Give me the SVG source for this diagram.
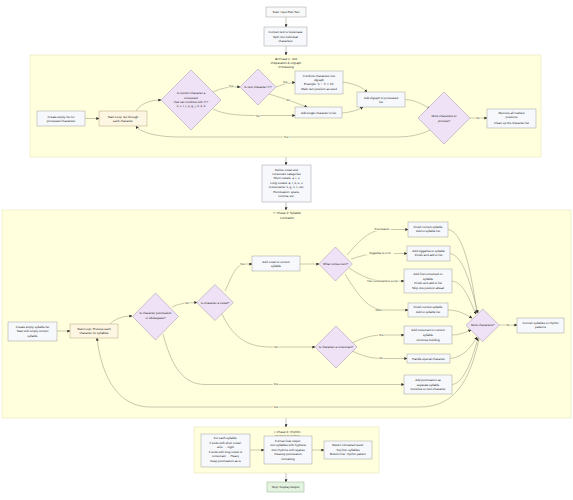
<svg xmlns="http://www.w3.org/2000/svg" width="573" height="500" viewBox="0 0 573 500">
<defs>
<marker id="arr" viewBox="0 0 10 10" refX="9" refY="5" markerUnits="userSpaceOnUse" markerWidth="3" markerHeight="3" orient="auto"><path d="M0,0 L10,5 L0,10 z" fill="#333"/></marker>
<style>
text{font-family:"Liberation Sans",Arial,sans-serif;font-size:3px;fill:#222;text-anchor:middle;text-rendering:geometricPrecision}
.cl{fill:#ffffde;stroke:#e6e3b8;stroke-width:0.6}
.cll{font-size:3.1px;fill:#333}
.proc{fill:#f6f8fc;stroke:#9e9e9e;stroke-width:0.5}
.dec{fill:#efe2f6;stroke:#a08cae;stroke-width:0.5}
.loop{fill:#fdf6e2;stroke:#b6a47c;stroke-width:0.5}
.start{fill:#f9f9f9;stroke:#9e9e9e;stroke-width:0.5}
.stop{fill:#e4f2e0;stroke:#93b58c;stroke-width:0.5}
.e{fill:none;stroke:#9a9a86;stroke-width:0.55;marker-end:url(#arr)}
.lb{fill:#ffffde;opacity:0.9}
.el{font-size:2.8px;fill:#333}
</style>
</defs>

<g id="clusters">
<rect class="cl" x="30" y="55" width="511" height="102"/>
<text class="cll" x="286" y="59.5">⊞ Phase 1: Text</text>
<text class="cll" x="286" y="63.5">Preparation &amp; Digraph</text>
<text class="cll" x="286" y="67.5">Processing</text>
<rect class="cl" x="2" y="210" width="569" height="208"/>
<text class="cll" x="287" y="214.3">✂ Phase 2: Syllable</text>
<text class="cll" x="287" y="218.6">Formation</text>
<rect class="cl" x="194" y="427" width="185" height="46"/>
<text class="cll" x="287" y="432.6">♫ Phase 3: Rhythm</text>
<text class="cll" x="287" y="436.6">Analysis &amp; Output</text>
</g>

<g id="connectors">
<path class="e" d="M286,17 L286,27"/>
<path class="e" d="M286,46 L286,55"/>
<path class="e" d="M85,118.5 L99,118.5"/>
<path class="e" d="M136,111 C140,104 150,100 161,100"/>
<path class="e" d="M213,92 Q225,86 240,87"/>
<path class="e" d="M276,87 Q285,82.5 295,82.5"/>
<path class="e" d="M269,94 Q290,100 307,107"/>
<path class="e" d="M213,109 C225,115 240,115.5 260,115.5 L295,115.5"/>
<path class="e" d="M343,82 C355,84 362,87 367,92"/>
<path class="e" d="M342,113 C352,112 358,110 363,107"/>
<path class="e" d="M405,99.5 C415,100 422,104 430,109"/>
<path class="e" d="M470,118 L487,118"/>
<path class="e" d="M430,130 C420,135 410,137 395,137 L180,137 C155,137 140,132 136,126"/>
<path class="e" d="M286,157 L286,165"/>
<path class="e" d="M286,202 L286,210"/>
<path class="e" d="M57,331 L70,331"/>
<path class="e" d="M110,324 C115,319 122,316 132,316"/>
<path class="e" d="M172,307 Q180,302.5 197,302.5"/>
<path class="e" d="M225,291 C232,276 236,264 245,264 L252,264"/>
<path class="e" d="M300,264 L319,264"/>
<path class="e" d="M347,255 C360,240 370,229.5 385,229.5 L408,229.5"/>
<path class="e" d="M351,259 Q365,253.5 380,253.5 L407,253.5"/>
<path class="e" d="M349,268 C360,275 370,281 385,281 L404,281"/>
<path class="e" d="M345,274 C358,295 368,310 385,310 L408,310"/>
<path class="e" d="M222,314 C232,335 245,347 270,347 L315,347"/>
<path class="e" d="M352,343 C365,337 372,335 385,335 L404,335"/>
<path class="e" d="M352,351 C365,357 372,358.5 385,358.5 L407,358.5"/>
<path class="e" d="M163,334 C170,360 180,384.5 205,384.5 L404,384.5"/>
<path class="e" d="M448,229.5 C465,232 472,280 477,313"/>
<path class="e" d="M450,253.5 C465,256 472,292 478,313"/>
<path class="e" d="M452,281 C465,283 470,302 476,314"/>
<path class="e" d="M448,310 C458,310 465,314 472,318"/>
<path class="e" d="M452,335 C460,335 466,332 471,330"/>
<path class="e" d="M450,358.5 C465,357 472,345 477,337"/>
<path class="e" d="M452,384.5 C465,383 473,356 478,338"/>
<path class="e" d="M499,325 L517,325"/>
<path class="e" d="M479,339 C470,380 455,407 420,407 L150,407 C120,407 102,380 97,338"/>
<path class="e" d="M286,418 L286,427"/>
<path class="e" d="M250,450 L264,450"/>
<path class="e" d="M312,450 L324,450"/>
<path class="e" d="M286,473 L286,482"/>

<rect class="lb" x="228" y="84.6" width="6" height="3"/><text class="el" x="231" y="87">Yes</text>
<rect class="lb" x="282" y="80.6" width="6" height="3"/><text class="el" x="285" y="83">Yes</text>
<rect class="lb" x="285.5" y="98.6" width="5" height="3"/><text class="el" x="288" y="101">No</text>
<rect class="lb" x="255.5" y="114" width="5" height="3"/><text class="el" x="258" y="116.5">No</text>
<rect class="lb" x="475.5" y="116.6" width="5" height="3"/><text class="el" x="478" y="119">No</text>
<rect class="lb" x="283" y="135.6" width="6" height="3"/><text class="el" x="286" y="138">Yes</text>
<rect class="lb" x="184.5" y="301.3" width="5" height="3"/><text class="el" x="187" y="303.7">No</text>
<rect class="lb" x="239.3" y="262.6" width="6" height="3"/><text class="el" x="242.3" y="265">Yes</text>
<rect class="lb" x="373" y="228" width="18" height="3"/><text class="el" x="382" y="230.4">Punctuation</text>
<rect class="lb" x="366" y="252" width="28" height="3"/><text class="el" x="380" y="254.4">Niggahita ṃ or ṁ</text>
<rect class="lb" x="366" y="279.6" width="33" height="3"/><text class="el" x="382.5" y="282">Two consonants in a row</text>
<rect class="lb" x="375" y="308.6" width="8" height="3"/><text class="el" x="379" y="311">Other</text>
<rect class="lb" x="273.5" y="345.6" width="5" height="3"/><text class="el" x="276" y="348">No</text>
<rect class="lb" x="378" y="333.6" width="6" height="3"/><text class="el" x="381" y="336">Yes</text>
<rect class="lb" x="378.5" y="357" width="5" height="3"/><text class="el" x="381" y="359.4">No</text>
<rect class="lb" x="272.7" y="383" width="6" height="3"/><text class="el" x="275.7" y="385.4">Yes</text>
<rect class="lb" x="505.5" y="323.6" width="5" height="3"/><text class="el" x="508" y="326">No</text>
<rect class="lb" x="272.7" y="405.6" width="6" height="3"/><text class="el" x="275.7" y="408">Yes</text>
</g>

<g id="start"><rect class="start" x="266" y="7" width="40" height="10"/><text x="286" y="13">Start: Input Pali Text</text></g>
<g id="convert"><rect class="proc" x="264" y="27" width="43" height="19"/><text x="285.5" y="33">Convert text to lowercase</text><text x="285.5" y="37.5">Split into individual</text><text x="285.5" y="42">characters</text></g>

<g id="p1_create"><rect class="proc" x="37" y="111" width="48" height="15"/><text x="61" y="117.7">Create empty list for</text><text x="61" y="122">processed characters</text></g>
<g id="p1_loop"><rect class="loop" x="99" y="111" width="48" height="15"/><text x="123" y="117.7">Start Loop: Go through</text><text x="123" y="122">each character</text></g>
<g id="p1_d1"><polygon class="dec" points="191,70 221,100 191,130 161,100"/><text x="191" y="94.3">Is current character a</text><text x="191" y="98.7">consonant</text><text x="191" y="103">that can combine with 'h'?</text><text x="191" y="107.3">k, c, t, ṭ, p, g, j, d, ḍ, b</text></g>
<g id="p1_d2"><polygon class="dec" points="258,69 276,87 258,105 240,87"/><text x="258" y="88">Is next character 'h'?</text></g>
<g id="p1_combine"><rect class="proc" x="295" y="71" width="48" height="23"/><text x="319" y="76.7">Combine characters into</text><text x="319" y="80.5">digraph</text><text x="319" y="85">Example: 'k' + 'h' = 'kh'</text><text x="319" y="90">Mark next position as used</text></g>
<g id="p1_digraph"><rect class="proc" x="357" y="92" width="48" height="15"/><text x="381" y="98.7">Add digraph to processed</text><text x="381" y="103.3">list</text></g>
<g id="p1_single"><rect class="proc" x="295" y="107" width="47" height="11"/><text x="318.5" y="113.6">Add single character to list</text></g>
<g id="p1_more"><polygon class="dec" points="444,92 470,118 444,144 418,118"/><text x="444" y="117">More characters to</text><text x="444" y="121.6">process?</text></g>
<g id="p1_remove"><rect class="proc" x="487" y="109" width="49" height="19"/><text x="511.5" y="113.7">Remove all marked</text><text x="511.5" y="118.3">positions</text><text x="511.5" y="123.6">Clean up the character list</text></g>

<g id="define"><rect class="proc" x="262" y="165" width="49" height="37"/><text x="286.5" y="171">Define vowel and</text><text x="286.5" y="175">consonant categories</text><text x="286.5" y="179.3">Short vowels: a, i, u</text><text x="286.5" y="183.7">Long vowels: ā, ī, ū, e, o</text><text x="286.5" y="188.3">Consonants: k, g, ṅ, c, etc.</text><text x="286.5" y="192.7">Punctuation: space,</text><text x="286.5" y="197">comma, etc.</text></g>

<g id="p2_create"><rect class="proc" x="8" y="322" width="49" height="19"/><text x="32.5" y="327.7">Create empty syllable list</text><text x="32.5" y="332">Start with empty current</text><text x="32.5" y="336.7">syllable</text></g>
<g id="p2_loop"><rect class="loop" x="70" y="324" width="48" height="14"/><text x="94" y="330">Start Loop: Process each</text><text x="94" y="334.3">character for syllables</text></g>
<g id="p2_punct"><polygon class="dec" points="155.5,293 178.5,316.5 155.5,340 132.5,316.5"/><text x="155.5" y="314.3">Is character punctuation</text><text x="155.5" y="319.3">or whitespace?</text></g>
<g id="p2_vowel"><polygon class="dec" points="215,284.5 233.3,302.5 215,320.5 196.7,302.5"/><text x="215" y="303.6">Is character a vowel?</text></g>
<g id="p2_addvowel"><rect class="proc" x="252" y="256" width="48" height="15"/><text x="276" y="262.7">Add vowel to current</text><text x="276" y="267">syllable</text></g>
<g id="p2_next"><polygon class="dec" points="335.5,247 352.3,264 335.5,281 318.7,264"/><text x="335.5" y="265">What comes next?</text></g>
<g id="p2_cons"><polygon class="dec" points="336,326 357,347 336,368 315,347"/><text x="336" y="348">Is character a consonant?</text></g>
<g id="p2_finish1"><rect class="proc" x="408" y="222" width="40" height="15"/><text x="428" y="228.3">Finish current syllable</text><text x="428" y="232.3">Add to syllable list</text></g>
<g id="p2_nigg"><rect class="proc" x="407" y="246" width="43" height="15"/><text x="428.5" y="252">Add niggahita to syllable</text><text x="428.5" y="256.3">Finish and add to list</text></g>
<g id="p2_first"><rect class="proc" x="404" y="269" width="48" height="24"/><text x="428" y="275.3">Add first consonant to</text><text x="428" y="280">syllable</text><text x="428" y="284.3">Finish and add to list</text><text x="428" y="288.7">Skip one position ahead</text></g>
<g id="p2_finish2"><rect class="proc" x="408" y="303" width="40" height="14"/><text x="428" y="308">Finish current syllable</text><text x="428" y="312.7">Add to syllable list</text></g>
<g id="p2_addcons"><rect class="proc" x="404" y="326" width="48" height="18"/><text x="428" y="331.3">Add consonant to current</text><text x="428" y="336">syllable</text><text x="428" y="340.7">Continue building</text></g>
<g id="p2_special"><rect class="proc" x="407" y="354" width="43" height="9"/><text x="428.5" y="359.6">Handle special character</text></g>
<g id="p2_addpunct"><rect class="proc" x="404" y="375" width="48" height="19"/><text x="428" y="381">Add punctuation as</text><text x="428" y="385.7">separate syllable</text><text x="428" y="390.3">Continue to next character</text></g>
<g id="p2_more"><polygon class="dec" points="482.7,309 499.3,325.3 482.7,341.6 466,325.3"/><text x="482.7" y="326.4">More characters?</text></g>
<g id="p2_convert"><rect class="proc" x="517" y="318" width="47" height="15"/><text x="540.5" y="323.7">Convert syllables to rhythm</text><text x="540.5" y="328.3">patterns</text></g>

<g id="p3_each"><rect class="proc" x="201" y="434" width="49" height="33"/><text x="225.5" y="439.3">For each syllable:</text><text x="225.5" y="443.7">If ends with short vowel:</text><text x="225.5" y="448.3">a/i/u → Light</text><text x="225.5" y="453">If ends with long vowel or</text><text x="225.5" y="457.3">consonant → Heavy</text><text x="225.5" y="462">Keep punctuation as-is</text></g>
<g id="p3_format"><rect class="proc" x="264" y="436" width="48" height="28"/><text x="288" y="441.7">Format final output:</text><text x="288" y="446">Join syllables with hyphens</text><text x="288" y="450.7">Join rhythms with spaces</text><text x="288" y="455.3">Cleanup punctuation</text><text x="288" y="460">formatting</text></g>
<g id="p3_return"><rect class="proc" x="324" y="441" width="48" height="18"/><text x="348" y="446.3">Return formatted result:</text><text x="348" y="450.7">Top line: syllables</text><text x="348" y="455.3">Bottom line: rhythm pattern</text></g>
<g id="stop"><rect class="stop" x="267" y="482" width="37" height="10"/><text x="285.5" y="488">Stop: Display Output</text></g>
</svg>
